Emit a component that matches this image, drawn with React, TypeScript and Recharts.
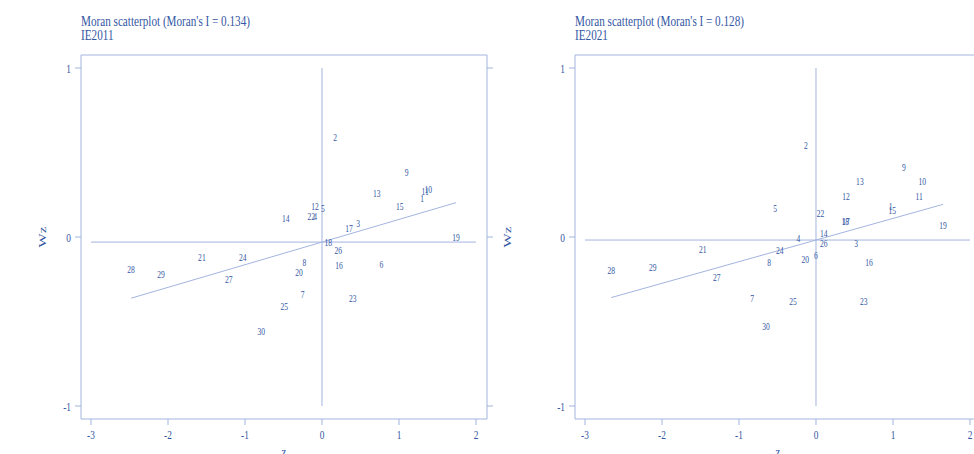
import { ScatterChart, Scatter, XAxis, YAxis, ReferenceLine } from "recharts";

const regions = ["1", "2", "3", "4", "5", "6", "7", "8", "9", "10", "11", "12", "13", "14", "15", "16", "17", "18", "19", "20", "21", "22", "23", "24", "25", "26", "27", "28", "29", "30"];

// IE2011
const z2011 = [1.3, 0.17, 0.47, -0.09, 0.01, 0.77, -0.25, -0.23, 1.1, 1.38, 1.34, -0.09, 0.71, -0.47, 1.01, 0.22, 0.35, 0.08, 1.74, -0.3, -1.56, -0.14, 0.4, -1.03, -0.49, 0.21, -1.21, -2.48, -2.09, -0.79];
const wz2011 = [0.23, 0.59, 0.08, 0.12, 0.17, -0.16, -0.34, -0.15, 0.38, 0.28, 0.27, 0.18, 0.26, 0.11, 0.18, -0.17, 0.05, -0.03, 0.0, -0.21, -0.12, 0.12, -0.36, -0.12, -0.41, -0.08, -0.25, -0.19, -0.22, -0.56];

// IE2021
const z2021 = [0.97, -0.13, 0.52, -0.23, -0.53, 0.0, -0.83, -0.61, 1.14, 1.38, 1.34, 0.39, 0.57, 0.1, 0.99, 0.69, 0.39, 0.38, 1.65, -0.14, -1.47, 0.06, 0.62, -0.47, -0.3, 0.1, -1.29, -2.66, -2.12, -0.65];
const wz2021 = [0.18, 0.54, -0.04, -0.01, 0.17, -0.11, -0.36, -0.15, 0.41, 0.33, 0.24, 0.24, 0.33, 0.02, 0.16, -0.15, 0.09, 0.09, 0.07, -0.13, -0.07, 0.14, -0.38, -0.08, -0.38, -0.04, -0.24, -0.2, -0.18, -0.53];

const moranI = [0.134, 0.128];
const meanWz = [-0.03, -0.018];
const years = ["IE2011", "IE2021"];

const xTicks = [-3, -2, -1, 0, 1, 2];
const yTicks = [-1, 0, 1];

const TXT = "#3356a3";
const LINE = "#a3b4de";
const FONT = "'Liberation Serif', 'Times New Roman', serif";
const SQ = 0.72; // horizontal squeeze of the original rendering

const PointLabel = (props: any) => {
  const { cx, cy, payload } = props;
  return (
    <g transform={`translate(${cx} ${cy}) scale(${SQ} 1)`}>
      <text x={0} y={0} dy="0.35em" textAnchor="middle" fontSize={10.5} fontFamily={FONT} fill={TXT}>
        {payload.id}
      </text>
    </g>
  );
};

const BottomTick = (props: any) => {
  const { x, y, payload } = props;
  return (
    <g transform={`translate(${x} ${y}) scale(${SQ} 1)`}>
      <text x={0} y={12} textAnchor="middle" fontSize={13} fontFamily={FONT} fill={TXT}>
        {payload.value}
      </text>
    </g>
  );
};

const LeftTick = (props: any) => {
  const { x, y, payload } = props;
  return (
    <g transform={`translate(${x - 2} ${y}) scale(${SQ} 1)`}>
      <text x={0} y={0} dy="0.35em" textAnchor="end" fontSize={13} fontFamily={FONT} fill={TXT}>
        {payload.value}
      </text>
    </g>
  );
};

const NoTick = () => <g />;

function Panel({ z, wz, k }: { z: number[]; wz: number[]; k: number }) {
  const data = regions.map((id, i) => ({ id, z: z[i], wz: wz[i] }));
  const x0 = Math.min(...z);
  const x1 = Math.max(...z);
  const fit = (x: number) => meanWz[k] + moranI[k] * x;
  const dom = { x: [-3.13, 2.143], y: [-1.077, 1.077] };
  return (
    <ScatterChart width={500} height={454} margin={{ top: 45, right: 5, bottom: 5, left: 51 }}>
      <XAxis xAxisId="b" dataKey="z" type="number" domain={dom.x} ticks={xTicks} allowDataOverflow
        height={30} tickSize={6} stroke={LINE} tick={<BottomTick />} />
      <XAxis xAxisId="t" orientation="top" type="number" domain={dom.x} ticks={xTicks} allowDataOverflow
        height={10} tickSize={6} stroke={LINE} tick={NoTick} />
      <YAxis yAxisId="l" dataKey="wz" type="number" domain={dom.y} ticks={yTicks} allowDataOverflow
        width={30} tickSize={6} stroke={LINE} tick={<LeftTick />} />
      <YAxis yAxisId="r" orientation="right" type="number" domain={dom.y} ticks={yTicks} allowDataOverflow
        width={8} tickSize={6} stroke={LINE} tick={NoTick} />
      <ReferenceLine xAxisId="b" yAxisId="l" segment={[{ x: 0, y: -1 }, { x: 0, y: 1 }]} stroke={LINE} strokeWidth={1} />
      <ReferenceLine xAxisId="b" yAxisId="l" segment={[{ x: -3, y: meanWz[k] }, { x: 2, y: meanWz[k] }]} stroke={LINE} strokeWidth={1} />
      <ReferenceLine xAxisId="b" yAxisId="l" segment={[{ x: x0, y: fit(x0) }, { x: x1, y: fit(x1) }]} stroke={LINE} strokeWidth={1} />
      <Scatter xAxisId="b" yAxisId="l" data={data} shape={PointLabel} isAnimationActive={false} />
    </ScatterChart>
  );
}

function Titles({ k, left, wzX }: { k: number; left: number; wzX: number }) {
  return (
    <g fontFamily={FONT} fill={TXT}>
      <g transform={`translate(${left} 26) scale(0.745 1)`}>
        <text x={0} y={0} fontSize={15}>{`Moran scatterplot (Moran's I = ${moranI[k].toFixed(3)})`}</text>
      </g>
      <g transform={`translate(${left} 40) scale(0.745 1)`}>
        <text x={0} y={0} fontSize={15}>{years[k]}</text>
      </g>
      <g transform={`translate(${wzX} 237) scale(${SQ} 1) rotate(-90)`}>
        <text x={0} y={0} dy="0.35em" textAnchor="middle" fontSize={15}>Wz</text>
      </g>
      <g transform={`translate(${left + 203} 457) scale(${SQ} 1)`}>
        <text x={0} y={0} textAnchor="middle" fontSize={15}>z</text>
      </g>
    </g>
  );
}

export default function App() {
  return (
    <div style={{ position: "absolute", left: 0, top: 0, width: 974, height: 454, overflow: "hidden", background: "#fff" }}>
      <div style={{ position: "absolute", left: 0, top: 0 }}>
        <Panel z={z2011} wz={wz2011} k={0} />
      </div>
      <div style={{ position: "absolute", left: 494, top: 0 }}>
        <Panel z={z2021} wz={wz2021} k={1} />
      </div>
      <svg width={974} height={454} style={{ position: "absolute", left: 0, top: 0, pointerEvents: "none" }}>
        <Titles k={0} left={81} wzX={42} />
        <Titles k={1} left={575} wzX={507} />
      </svg>
    </div>
  );
}
